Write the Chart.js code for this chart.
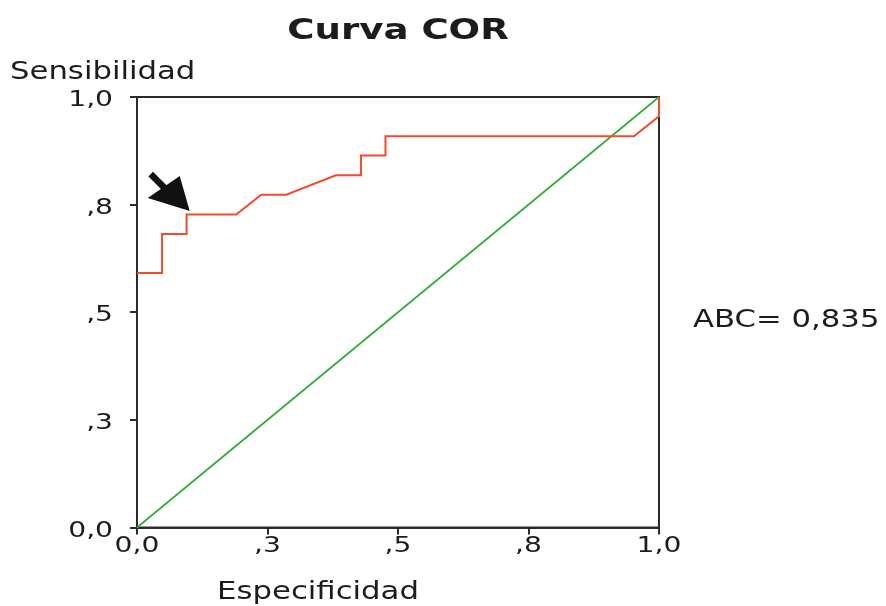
<!DOCTYPE html>
<html>
<head>
<meta charset="utf-8">
<script src="https://cdn.jsdelivr.net/npm/chart.js@4/dist/chart.umd.min.js"></script>
<style>
html,body{margin:0;padding:0;background:#fff;}
canvas{display:block;}
</style>
</head>
<body>
<canvas id="c" width="886" height="606"></canvas>
<script>
// ---- data ----
const rocX = [0, 0.048, 0.048, 0.095, 0.095, 0.190, 0.238, 0.286, 0.381, 0.429, 0.429, 0.476, 0.476, 0.952, 1.0, 1.0];
const rocY = [0.591, 0.591, 0.682, 0.682, 0.727, 0.727, 0.773, 0.773, 0.818, 0.818, 0.864, 0.864, 0.909, 0.909, 0.955, 1.0];
const refX = [0, 1];
const refY = [0, 1];
const tickValues = [0, 0.25, 0.5, 0.75, 1.0];
const xTickLabels = ['0,0', ',3', ',5', ',8', '1,0'];
const yTickLabels = ['0,0', ',3', ',5', ',8', '1,0'];
const titleText = 'Curva COR';
const xTitle = 'Especificidad';
const yTitle = 'Sensibilidad';
const aucText = 'ABC= 0,835';
const arrowTip = [0.101, 0.735];

const FONT = '"DejaVu Sans", Verdana, sans-serif';
const SX = 1.28; // horizontal stretch of the reference text
const TXT = '#1c1c1c';
const FRAME = '#2e2a2a';

function stretchedText(ctx, text, x, y, font, align) {
  ctx.save();
  ctx.font = font;
  ctx.fillStyle = TXT;
  ctx.textAlign = align;
  ctx.textBaseline = 'alphabetic';
  ctx.translate(x, y);
  ctx.scale(SX, 1);
  ctx.fillText(text, 0, 0);
  ctx.restore();
}

const decor = {
  id: 'decor',
  beforeDatasetsDraw(chart) {
    const {ctx, chartArea: a} = chart;
    ctx.save();
    ctx.strokeStyle = FRAME;
    ctx.lineWidth = 2;
    ctx.strokeRect(a.left, a.top, a.right - a.left, a.bottom - a.top);
    ctx.restore();
  },
  afterDraw(chart) {
    const {ctx, chartArea: a} = chart;
    const xs = chart.scales.x, ys = chart.scales.y;
    // tick labels
    tickValues.forEach((v, i) => {
      const px = xs.getPixelForValue(v);
      stretchedText(ctx, xTickLabels[i], px, a.bottom + 24, '22px ' + FONT, 'center');
      const py = ys.getPixelForValue(v);
      stretchedText(ctx, yTickLabels[i], 113, py + 9, '22px ' + FONT, 'right');
    });
    // titles
    stretchedText(ctx, titleText, (a.left + a.right) / 2, 39, 'bold 29px ' + FONT, 'center');
    stretchedText(ctx, yTitle, 10, 79, '24px ' + FONT, 'left');
    stretchedText(ctx, xTitle, 318, 599, '24px ' + FONT, 'center');
    stretchedText(ctx, aucText, 693, 327, '24px ' + FONT, 'left');
    // arrow annotation
    const tx = xs.getPixelForValue(arrowTip[0]);
    const ty = ys.getPixelForValue(arrowTip[1]);
    ctx.save();
    ctx.fillStyle = '#111';
    ctx.strokeStyle = '#111';
    ctx.lineWidth = 6.5;
    ctx.lineCap = 'butt';
    ctx.beginPath();
    ctx.moveTo(tx - 39, ty - 37);
    ctx.lineTo(tx - 22, ty - 20);
    ctx.stroke();
    ctx.beginPath();
    ctx.moveTo(tx, ty);
    ctx.lineTo(tx - 42, ty - 13);
    ctx.lineTo(tx - 10, ty - 35);
    ctx.closePath();
    ctx.fill();
    ctx.restore();
  }
};

const toPts = (xs, ys) => xs.map((x, i) => ({x, y: ys[i]}));

new Chart(document.getElementById('c'), {
  type: 'scatter',
  data: {
    datasets: [
      {
        data: toPts(refX, refY),
        showLine: true,
        borderColor: '#36ad3a',
        borderWidth: 1.8,
        pointRadius: 0,
        fill: false,
        clip: false,
        order: 2
      },
      {
        data: toPts(rocX, rocY),
        showLine: true,
        borderColor: '#f24a2a',
        borderWidth: 2,
        pointRadius: 0,
        fill: false,
        clip: false,
        order: 1
      }
    ]
  },
  options: {
    responsive: false,
    devicePixelRatio: 1,
    animation: false,
    layout: {padding: {top: 97, right: 227, left: 0, bottom: 0}},
    plugins: {legend: {display: false}, tooltip: {enabled: false}, title: {display: false}},
    scales: {
      x: {
        type: 'linear', min: 0, max: 1,
        ticks: {display: false, stepSize: 0.25},
        grid: {drawOnChartArea: false, drawTicks: true, tickLength: 7, color: FRAME, lineWidth: 2},
        border: {display: true, color: FRAME, width: 2},
        afterFit(s) { s.height = 78.5; }
      },
      y: {
        type: 'linear', min: 0, max: 1,
        ticks: {display: false, stepSize: 0.25},
        grid: {drawOnChartArea: false, drawTicks: true, tickLength: 7, color: FRAME, lineWidth: 2},
        border: {display: true, color: FRAME, width: 2},
        afterFit(s) { s.width = 137; }
      }
    }
  },
  plugins: [decor]
});
</script>
</body>
</html>
